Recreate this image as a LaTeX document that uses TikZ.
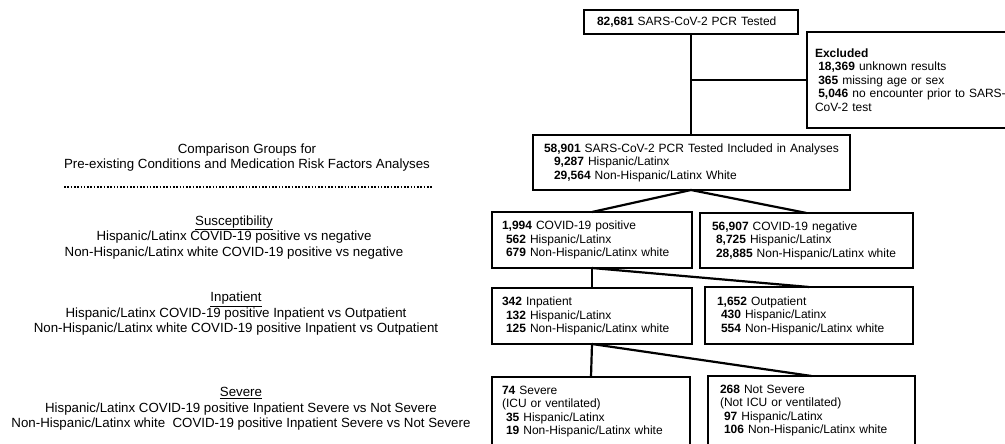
\documentclass[tikz,border=0pt]{standalone}
\usepackage{fontspec}
\setmainfont{Liberation Sans}
\usetikzlibrary{positioning}
\newcommand{\boxfont}{\fontsize{12}{13.5}\selectfont}
\newcommand{\sidefont}{\fontsize{13.3}{15.5}\selectfont}
\newcommand{\indt}[1][4pt]{\hspace*{#1}}
\tikzset{
  flowbox/.style = {draw, line width=1.2pt, anchor=north west, outer sep=0pt, align=left, inner xsep=10pt, inner ysep=2pt, font=\boxfont},
  link/.style = {line width=2.2pt},
  sidetext/.style = {align=center, inner sep=0pt, font=\sidefont},
  sepline/.style = {line width=1.6pt, dash pattern=on 1.6pt off 1.7pt},
}

\begin{document}
\begin{tikzpicture}[x=1pt, y=-1pt]
	\useasboundingbox (0,0) rectangle (1005,444);
	% comparison groups
	\node[sidetext] (groups) at (247,157.5) {Comparison Groups for\\Pre-existing Conditions and Medication Risk Factors Analyses};
	\draw[sepline] (64,187) -- (432,187);
	\node[sidetext] (suscept) at (234,237.5) {\underline{Susceptibility}\\Hispanic/Latinx COVID-19 positive vs negative\\Non-Hispanic/Latinx white COVID-19 positive vs negative};
	\node[sidetext] (inpatgrp) at (236,314) {\underline{Inpatient}\\Hispanic/Latinx COVID-19 positive Inpatient vs Outpatient\\Non-Hispanic/Latinx white COVID-19 positive Inpatient vs Outpatient};
	\node[sidetext] (severegrp) at (241,409) {\underline{Severe}\\Hispanic/Latinx COVID-19 positive Inpatient Severe vs Not Severe\\Non-Hispanic/Latinx white\ \ COVID-19 positive Inpatient Severe vs Not Severe};
	% flow boxes
	\node[flowbox, inner xsep=13pt, text width=188pt, minimum height=24pt] (tested) at (584,10) {\textbf{82,681} SARS-CoV-2 PCR Tested};
	\node[flowbox, inner xsep=8pt, text width=224pt, minimum height=96pt] (excl) at (807,32) {\textbf{Excluded}\\ \indt[3.3pt]\textbf{18,369} unknown results\\ \indt[3.3pt]\textbf{365} missing age or sex\\ \indt[3.3pt]\textbf{5,046} no encounter prior to SARS-\\CoV-2 test};
	\node[flowbox, inner xsep=11pt, text width=295pt, minimum height=55pt] (incl) at (533,135) {\textbf{58,901} SARS-CoV-2 PCR Tested Included in Analyses\\ \indt[10pt]\textbf{9,287} Hispanic/Latinx\\ \indt[10pt]\textbf{29,564} Non-Hispanic/Latinx White};
	\node[flowbox, text width=180pt, minimum height=56pt] (pos) at (492,212) {\textbf{1,994} COVID-19 positive\\ \indt\textbf{562} Hispanic/Latinx\\ \indt\textbf{679} Non-Hispanic/Latinx white};
	\node[flowbox, inner xsep=12pt, text width=189pt, minimum height=55pt] (neg) at (700,213) {\textbf{56,907} COVID-19 negative\\ \indt\textbf{8,725} Hispanic/Latinx\\ \indt\textbf{28,885} Non-Hispanic/Latinx white};
	\node[flowbox, text width=180pt, minimum height=56pt] (inpat) at (492,288) {\textbf{342} Inpatient\\ \indt\textbf{132} Hispanic/Latinx\\ \indt\textbf{125} Non-Hispanic/Latinx white};
	\node[flowbox, inner xsep=12pt, text width=184pt, minimum height=57pt] (outpat) at (705,287) {\textbf{1,652} Outpatient\\ \indt\textbf{430} Hispanic/Latinx\\ \indt\textbf{554} Non-Hispanic/Latinx white};
	\node[flowbox, text width=178pt, minimum height=69pt] (severe) at (492,377) {\textbf{74} Severe\\(ICU or ventilated)\\ \indt\textbf{35} Hispanic/Latinx\\ \indt\textbf{19} Non-Hispanic/Latinx white};
	\node[flowbox, inner xsep=12pt, text width=183pt, minimum height=69pt] (notsev) at (708,376) {\textbf{268} Not Severe\\(Not ICU or ventilated)\\ \indt\textbf{97} Hispanic/Latinx\\ \indt\textbf{106} Non-Hispanic/Latinx white};
	% connectors
	\draw[link] (tested.south) -- (tested.south |- incl.north);
	\draw[link] (tested.south |- excl.west) -- (excl.west);
	\coordinate (inclfork) at (tested.south |- incl.south);
	\draw[link] (inclfork) -- (pos.north);
	\draw[link] (inclfork) -- (neg.north);
	\draw[link] (pos.south) -- (inpat.north);
	\draw[link] (pos.south) -- (outpat.north);
	\draw[link] (inpat.south) -- (severe.north);
	\draw[link] (inpat.south) -- (notsev.north);
\end{tikzpicture}
\end{document}
